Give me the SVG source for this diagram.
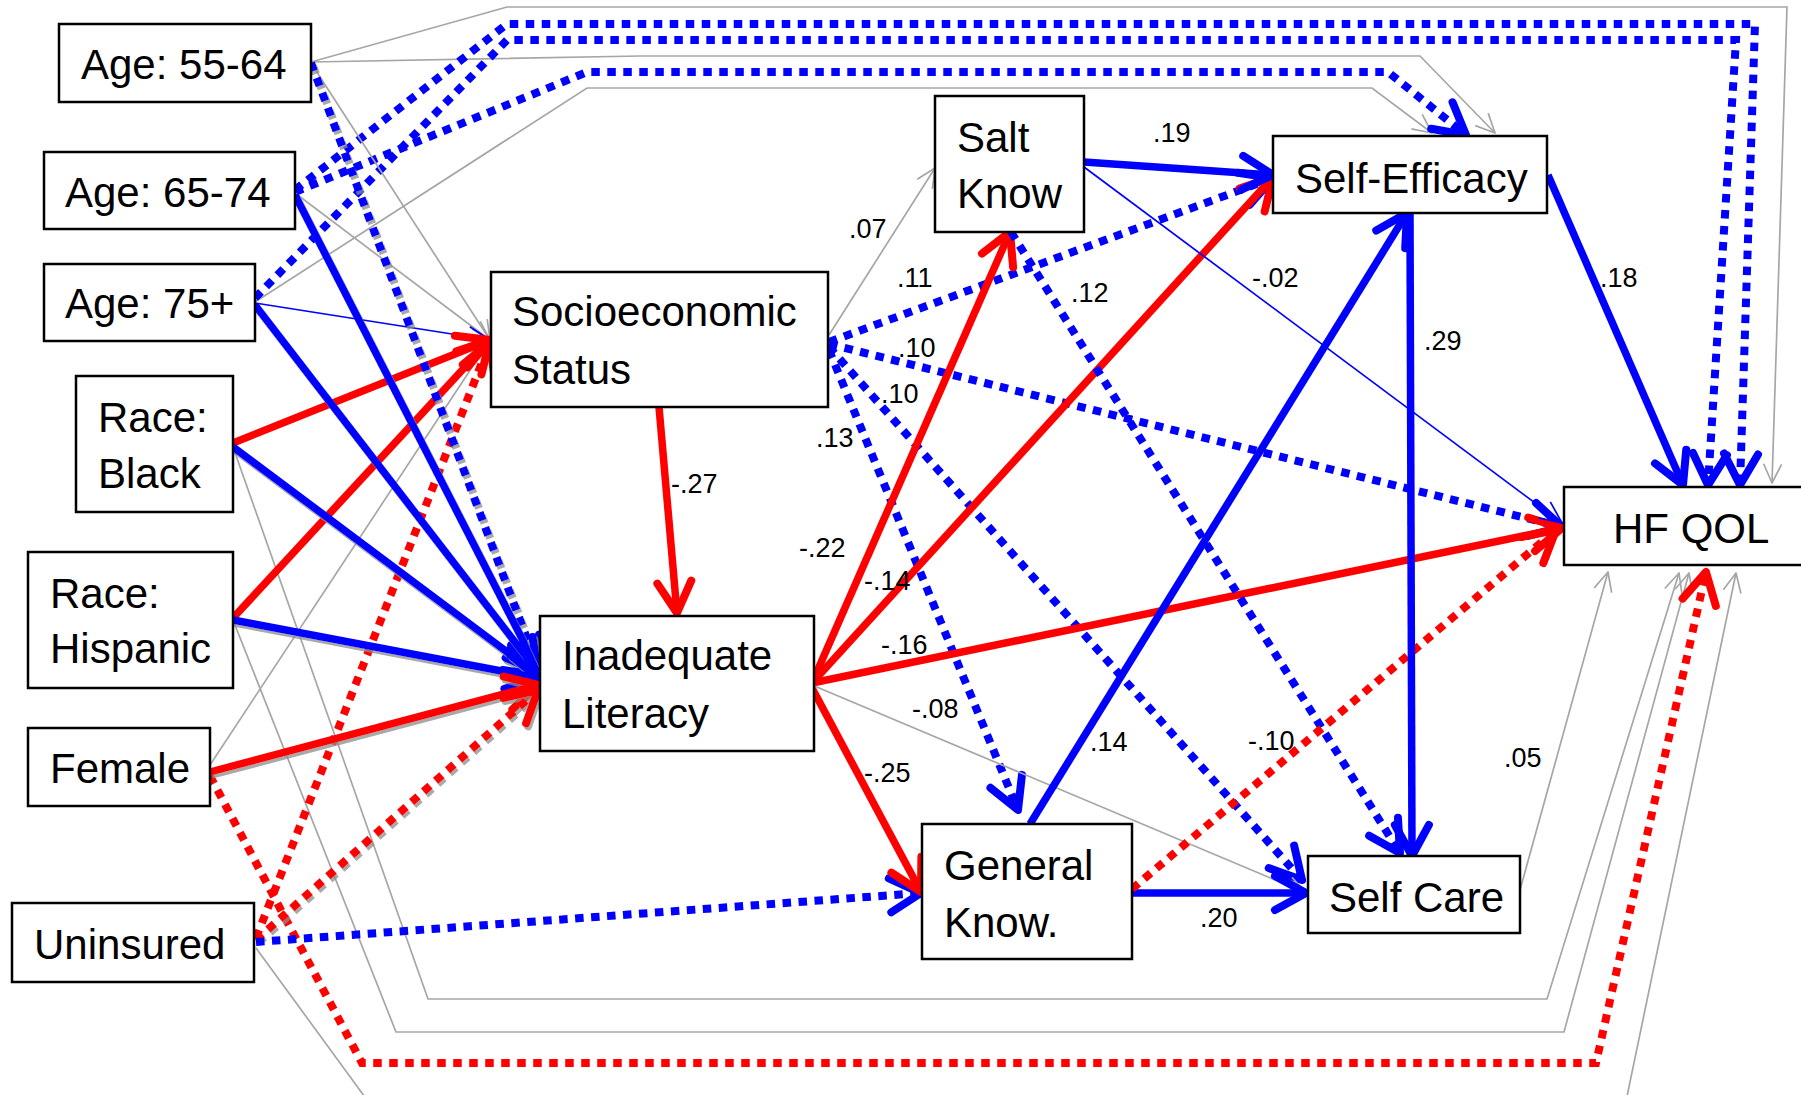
<svg xmlns="http://www.w3.org/2000/svg" width="1801" height="1095" viewBox="0 0 1801 1095">
<style>
.box{fill:#fff;stroke:#000;stroke-width:2.5}
.nt{font-family:"Liberation Sans",Arial,sans-serif;font-size:42px;fill:#000}
.lb{font-family:"Liberation Sans",Arial,sans-serif;font-size:27px;fill:#000}
.bs{fill:none;stroke:#0000ff;stroke-width:7.5;marker-end:url(#mb)}
.rs{fill:none;stroke:#ff0000;stroke-width:7.5;marker-end:url(#mr)}
.bd{fill:none;stroke:#0000ff;stroke-width:8;stroke-dasharray:8.5 7.5;marker-end:url(#mb)}
.rd{fill:none;stroke:#ff0000;stroke-width:8;stroke-dasharray:8.5 7.5;marker-end:url(#mr)}
.g{fill:none;stroke:#a6a6a6;stroke-width:1.7;marker-end:url(#mg)}
.bt{fill:none;stroke:#0000ff;stroke-width:1.7;marker-end:url(#mbt)}
.sh{filter:url(#shadow)}
</style>
<defs>
<marker id="mb" markerUnits="userSpaceOnUse" viewBox="-40 -40 80 80" markerWidth="80" markerHeight="80" refX="0" refY="0" orient="auto" overflow="visible">
<path d="M-31,-17 L0,0 L-31,17" fill="none" stroke="#0000ff" stroke-width="8" stroke-linecap="round" stroke-linejoin="round" stroke-dasharray="none"/>
</marker>
<marker id="mr" markerUnits="userSpaceOnUse" viewBox="-40 -40 80 80" markerWidth="80" markerHeight="80" refX="0" refY="0" orient="auto" overflow="visible">
<path d="M-31,-17 L0,0 L-31,17" fill="none" stroke="#ff0000" stroke-width="8" stroke-linecap="round" stroke-linejoin="round" stroke-dasharray="none"/>
</marker>
<marker id="mg" markerUnits="userSpaceOnUse" viewBox="-30 -30 60 60" markerWidth="60" markerHeight="60" refX="0" refY="0" orient="auto" overflow="visible">
<path d="M-19,-9 L0,0 L-19,9" fill="none" stroke="#a6a6a6" stroke-width="1.7" stroke-linejoin="round"/>
</marker>
<marker id="mbt" markerUnits="userSpaceOnUse" viewBox="-30 -30 60 60" markerWidth="60" markerHeight="60" refX="0" refY="0" orient="auto" overflow="visible">
<path d="M-22,-10 L0,0 L-22,10" fill="none" stroke="#0000ff" stroke-width="1.7" stroke-linejoin="round"/>
</marker>
<filter id="shadow" filterUnits="userSpaceOnUse" x="0" y="0" width="1801" height="1095">
<feOffset in="SourceAlpha" dx="2" dy="3" result="o"/>
<feFlood flood-color="#8c8c8c" flood-opacity="0.75"/>
<feComposite in2="o" operator="in" result="s"/>
<feMerge><feMergeNode in="s"/><feMergeNode in="SourceGraphic"/></feMerge>
</filter>
</defs>
<rect width="1801" height="1095" fill="#fff"/>

<g id="connectors">
<path class="g" d="M311,62 L507,7 L1787,7 L1772,483"/>
<path class="g" d="M311,62 L640,56 L1420,56 L1495,133"/>
<path class="g" d="M255,302 L587,88 L1372,88 L1432,133"/>
<path class="bd" d="M295,190 L507,24 L1755,24 L1740,485"/>
<path class="bd" d="M255,298 L507,40 L1736,40 L1708,485"/>
<path class="bd" d="M295,192 L587,72 L1388,72 L1466,135"/>
<path class="g" d="M233,447 L428,999 L1547,999 L1679,573"/>
<path class="g" d="M233,620 L396,1032 L1564,1032 L1689,573"/>
<path class="rd" d="M210,776 L362,1063 L1596,1063 L1706,572"/>
<path class="g" d="M256,948 L389,1130 L1620,1130 L1736,573"/>
<path class="g" d="M311,63 L490,340"/>
<path class="g" d="M295,193 L490,340"/>
<path class="bt" d="M255,303 L490,340"/>
<path class="g" d="M210,765 L490,340"/>
<path class="rs" d="M233,443 L490,340"/>
<path class="rs" d="M233,618 L490,340"/>
<path class="rd" d="M256,938 L490,342"/>
<path class="bd sh" d="M311,63 L538,668"/>
<path class="bs sh" d="M295,195 L538,670"/>
<path class="bs sh" d="M255,305 L538,672"/>
<path class="bs sh" d="M233,447 L538,675"/>
<path class="bs sh" d="M233,620 L538,678"/>
<path class="rs sh" d="M210,772 L538,685"/>
<path class="rd sh" d="M256,940 L538,690"/>
<path class="bd" d="M256,942 L921,893"/>
<path class="rs" d="M659,407 L677,613"/>
<path class="g" d="M829,335 L935,168"/>
<path class="bd" d="M829,342 L1273,178"/>
<path class="bd" d="M829,344 L1562,527"/>
<path class="bd" d="M829,347 L1302,880"/>
<path class="bd" d="M829,350 L1018,810"/>
<path class="rs" d="M812,683 L1010,232"/>
<path class="rs" d="M812,683 L1273,177"/>
<path class="rs" d="M812,683 L1562,528"/>
<path class="rs" d="M812,688 L921,892"/>
<path class="g" d="M812,685 L1306,893"/>
<path class="bs" d="M1084,162 L1273,175"/>
<path class="bt" d="M1084,167 L1562,523"/>
<path class="bd" d="M1011,232 L1400,853"/>
<path class="bs" d="M1030,824 L1407,213"/>
<path class="bs" d="M1132,893 L1306,893"/>
<path class="rd" d="M1132,889 L1556,530"/>
<path class="bs" d="M1410,213 L1412,856"/>
<path class="bs" d="M1548,175 L1683,485"/>
<path class="g" d="M1520,890 L1608,572"/>
</g>

<g id="labels">
<text class="lb" x="849" y="238">.07</text>
<text class="lb" x="897" y="287">.11</text>
<text class="lb" x="898" y="357">.10</text>
<text class="lb" x="881" y="403">.10</text>
<text class="lb" x="816" y="447">.13</text>
<text class="lb" x="1071" y="302">.12</text>
<text class="lb" x="1153" y="142">.19</text>
<text class="lb" x="1252" y="287">-.02</text>
<text class="lb" x="1600" y="287">.18</text>
<text class="lb" x="1424" y="350">.29</text>
<text class="lb" x="671" y="493">-.27</text>
<text class="lb" x="799" y="557">-.22</text>
<text class="lb" x="864" y="590">-.14</text>
<text class="lb" x="881" y="654">-.16</text>
<text class="lb" x="912" y="718">-.08</text>
<text class="lb" x="864" y="782">-.25</text>
<text class="lb" x="1090" y="751">.14</text>
<text class="lb" x="1248" y="750">-.10</text>
<text class="lb" x="1504" y="767">.05</text>
<text class="lb" x="1200" y="927">.20</text>
</g>

<g id="n-age5564"><rect class="box" x="59" y="24" width="252" height="78"/><text class="nt" x="81" y="79">Age: 55-64</text></g>
<g id="n-age6574"><rect class="box" x="44" y="152" width="251" height="77"/><text class="nt" x="65" y="207">Age: 65-74</text></g>
<g id="n-age75"><rect class="box" x="44" y="264" width="211" height="77"/><text class="nt" x="65" y="318">Age: 75+</text></g>
<g id="n-black"><rect class="box" x="76" y="376" width="157" height="136"/><text class="nt" x="98" y="432">Race:</text><text class="nt" x="98" y="488">Black</text></g>
<g id="n-hispanic"><rect class="box" x="28" y="552" width="205" height="136"/><text class="nt" x="50" y="608">Race:</text><text class="nt" x="50" y="663">Hispanic</text></g>
<g id="n-female"><rect class="box" x="28" y="728" width="182" height="78"/><text class="nt" x="50" y="783">Female</text></g>
<g id="n-uninsured"><rect class="box" x="12" y="903" width="242" height="79"/><text class="nt" x="34" y="959">Uninsured</text></g>
<g id="n-ses"><rect class="box" x="491" y="272" width="337" height="135"/><text class="nt" x="512" y="326">Socioeconomic</text><text class="nt" x="512" y="384">Status</text></g>
<g id="n-literacy"><rect class="box" x="540" y="616" width="274" height="135"/><text class="nt" x="562" y="670">Inadequate</text><text class="nt" x="562" y="728">Literacy</text></g>
<g id="n-salt"><rect class="box" x="935" y="96" width="149" height="136"/><text class="nt" x="957" y="152">Salt</text><text class="nt" x="957" y="208">Know</text></g>
<g id="n-selfeff"><rect class="box" x="1273" y="136" width="274" height="77"/><text class="nt" x="1295" y="193">Self-Efficacy</text></g>
<g id="n-hfqol"><rect class="box" x="1564" y="487" width="250" height="78"/><text class="nt" x="1613" y="543">HF QOL</text></g>
<g id="n-genknow"><rect class="box" x="922" y="824" width="210" height="135"/><text class="nt" x="944" y="880">General</text><text class="nt" x="944" y="937">Know.</text></g>
<g id="n-selfcare"><rect class="box" x="1308" y="856" width="212" height="77"/><text class="nt" x="1329" y="912">Self Care</text></g>
</svg>
